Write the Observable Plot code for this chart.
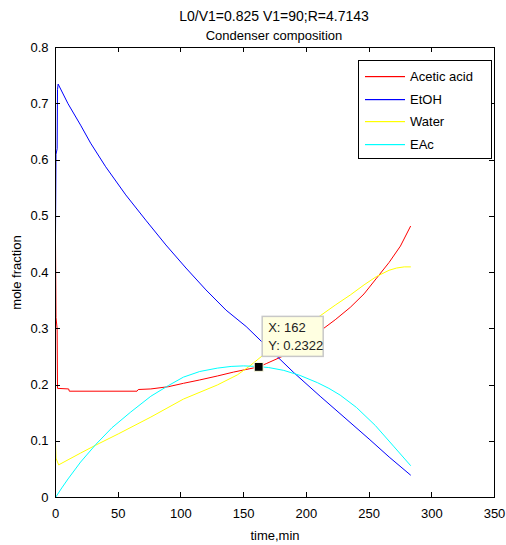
<!DOCTYPE html>
<html>
<head>
<meta charset="utf-8">
<script src="https://cdn.jsdelivr.net/npm/d3@7"></script>
<script src="https://cdn.jsdelivr.net/npm/@observablehq/plot@0.6"></script>
<style>
  body { margin: 0; background: #fff; }
  #wrap { position: relative; width: 506px; height: 545px; font-family: "Liberation Sans", Arial, sans-serif; color: #000; }
  .tl { position: absolute; left: 274px; transform: translateX(-50%); white-space: nowrap; line-height: 14px; }
  #chart { position: absolute; left: 0; top: 44px; }
</style>
</head>
<body>
<div id="wrap">
  <div class="tl" id="t1" style="top:9px;font-size:14px"></div>
  <div class="tl" id="t2" style="top:29px;font-size:13px"></div>
  <div id="chart"></div>
</div>
<script>
// ---- text ----
const titleLines = ["L0/V1=0.825 V1=90;R=4.7143", "Condenser composition"];
const xLabel = "time,min";
const yLabel = "mole fraction";
const seriesNames = ["Acetic acid", "EtOH", "Water", "EAc"];
const seriesColors = ["#ff0000", "#0000ff", "#ffff00", "#00ffff"];
const xTicks = [0, 50, 100, 150, 200, 250, 300, 350];
const yTicks = [0, 0.1, 0.2, 0.3, 0.4, 0.5, 0.6, 0.7, 0.8];
const yTickLabels = ["0", "0.1", "0.2", "0.3", "0.4", "0.5", "0.6", "0.7", "0.8"];

// ---- series (time in min, mole fraction) ----
const acidT = [0, 0.4, 1.3, 1.6, 10.5, 11, 65, 66, 76, 90, 102, 115, 129, 142, 155, 162, 168, 180, 190, 200, 211, 223, 235, 246, 256, 266, 275, 283];
const acidY = [0.46, 0.32, 0.30, 0.194, 0.193, 0.189, 0.189, 0.192, 0.193, 0.197, 0.203, 0.209, 0.216, 0.223, 0.229, 0.2322, 0.238, 0.25, 0.263, 0.278, 0.296, 0.316, 0.338, 0.362, 0.39, 0.418, 0.447, 0.482];

const etohT = [0, 0.4, 1.3, 1.6, 2.1, 10, 20, 28, 40, 56, 72, 88, 104, 120, 136, 152, 164, 190, 211, 230, 250, 266, 283];
const etohY = [0.46, 0.61, 0.62, 0.725, 0.735, 0.70, 0.662, 0.630, 0.588, 0.538, 0.493, 0.449, 0.408, 0.369, 0.333, 0.304, 0.278, 0.222, 0.180, 0.143, 0.104, 0.072, 0.040];

const waterT = [0, 0.4, 2.5, 10, 20, 32, 50, 76, 102, 129, 145, 155, 166, 180, 195, 211, 223, 235, 246, 256, 266, 272, 278, 283];
const waterY = [0.10, 0.07, 0.058, 0.067, 0.079, 0.093, 0.113, 0.143, 0.175, 0.2, 0.218, 0.234, 0.254, 0.275, 0.298, 0.323, 0.342, 0.360, 0.378, 0.393, 0.404, 0.408, 0.41, 0.41];

const eacT = [0, 5, 10, 20, 32, 45, 60, 76, 90, 102, 115, 129, 140, 150, 160, 170, 182, 195, 209, 218, 227, 240, 255, 270, 283];
const eacY = [0, 0.017, 0.033, 0.063, 0.094, 0.124, 0.152, 0.180, 0.199, 0.214, 0.224, 0.230, 0.233, 0.234, 0.233, 0.231, 0.226, 0.217, 0.204, 0.194, 0.182, 0.16, 0.128, 0.09, 0.057];

// data tip
const tipX = [162];
const tipY = [0.2322];
const tipText = ["X: 162", "Y: 0.2322"];

const seriesT = [acidT, etohT, waterT, eacT];
const seriesY = [acidY, etohY, waterY, eacY];
const rows = seriesNames.flatMap((name, k) => seriesT[k].map((t, i) => ({series: name, t, v: seriesY[k][i]})));
const tipRows = tipX.map((x, i) => ({x, y: tipY[i]}));

document.getElementById("t1").textContent = titleLines[0];
document.getElementById("t2").textContent = titleLines[1];

const font = `"Liberation Sans", Arial, sans-serif`;

const chart = Plot.plot({
  width: 506,
  height: 501,
  marginLeft: 55,
  marginRight: 12,
  marginTop: 3,
  marginBottom: 48,
  style: {fontFamily: font, fontSize: "13px", color: "#000", background: "#fff", overflow: "visible"},
  x: {domain: [0, 350]},
  y: {domain: [0, 0.8]},
  marks: [
    Plot.axisX({anchor: "bottom", ticks: xTicks, tickSize: 0, tickPadding: 11, label: xLabel, labelAnchor: "center", labelArrow: "none", labelOffset: 42}),
    Plot.axisY({anchor: "left", ticks: yTicks, tickSize: 0, tickPadding: 7, tickFormat: (d, i) => yTickLabels[i], label: yLabel, labelAnchor: "center", labelArrow: "none", labelOffset: 44}),
    ...seriesNames.map((name, k) => Plot.line(rows.filter(r => r.series === name), {x: "t", y: "v", stroke: seriesColors[k], strokeWidth: 1})),
    Plot.frame({stroke: "#000"}),
    Plot.dot(tipRows, {x: "x", y: "y", symbol: "square", r: 5, fill: "#000", stroke: "#ffffe1", strokeWidth: 1})
  ]
});
document.getElementById("chart").appendChild(chart);

const sx = chart.scale("x"), sy = chart.scale("y");
const svg = d3.select(chart);
const [X0, X1] = sx.range, [Y0, Y1] = sy.range; // Y0 bottom, Y1 top
const tk = 5;

// inward ticks on all four sides (MATLAB box style), drawn as filled rects
const tg = svg.append("g").attr("fill", "#000");
xTicks.forEach(v => {
  const px = Math.round(sx.apply(v));
  tg.append("rect").attr("x", px).attr("width", 1).attr("y", Y0 - tk).attr("height", tk);
  tg.append("rect").attr("x", px).attr("width", 1).attr("y", Y1).attr("height", tk);
});
yTicks.forEach(v => {
  const py = Math.round(sy.apply(v));
  tg.append("rect").attr("x", X0).attr("width", tk).attr("y", py).attr("height", 1);
  tg.append("rect").attr("x", X1 - tk).attr("width", tk).attr("y", py).attr("height", 1);
});

// data tip box positioned through the chart's scales
tipRows.forEach(d => {
  const cx = sx.apply(d.x), cy = sy.apply(d.y);
  const g = svg.append("g").attr("font-family", font).attr("font-size", 13).attr("text-anchor", "start");
  g.append("rect").attr("x", cx + 4).attr("y", cy - 50).attr("width", 61).attr("height", 40)
    .attr("fill", "#ffffe1").attr("stroke", "#c8c8c8").attr("stroke-width", 1.5);
  tipText.forEach((s, i) => g.append("text").attr("x", cx + 10).attr("y", cy - 34 + i * 18).attr("fill", "#222").text(s));
});

// legend box (inside plot, upper right)
const lg = svg.append("g").attr("font-family", font).attr("font-size", 13).attr("text-anchor", "start");
const L = 358, T = 16, W = 133, H = 98;
lg.append("rect").attr("x", L + 0.5).attr("y", T + 0.5).attr("width", W).attr("height", H).attr("fill", "#fff").attr("stroke", "#000");
seriesNames.forEach((name, i) => {
  const yy = Math.round(T + 16 + i * 22.5);
  lg.append("rect").attr("x", L + 7).attr("width", 40).attr("y", yy).attr("height", 1.2).attr("fill", seriesColors[i]);
  lg.append("text").attr("x", L + 52).attr("y", yy + 5).text(name);
});
</script>
</body>
</html>
